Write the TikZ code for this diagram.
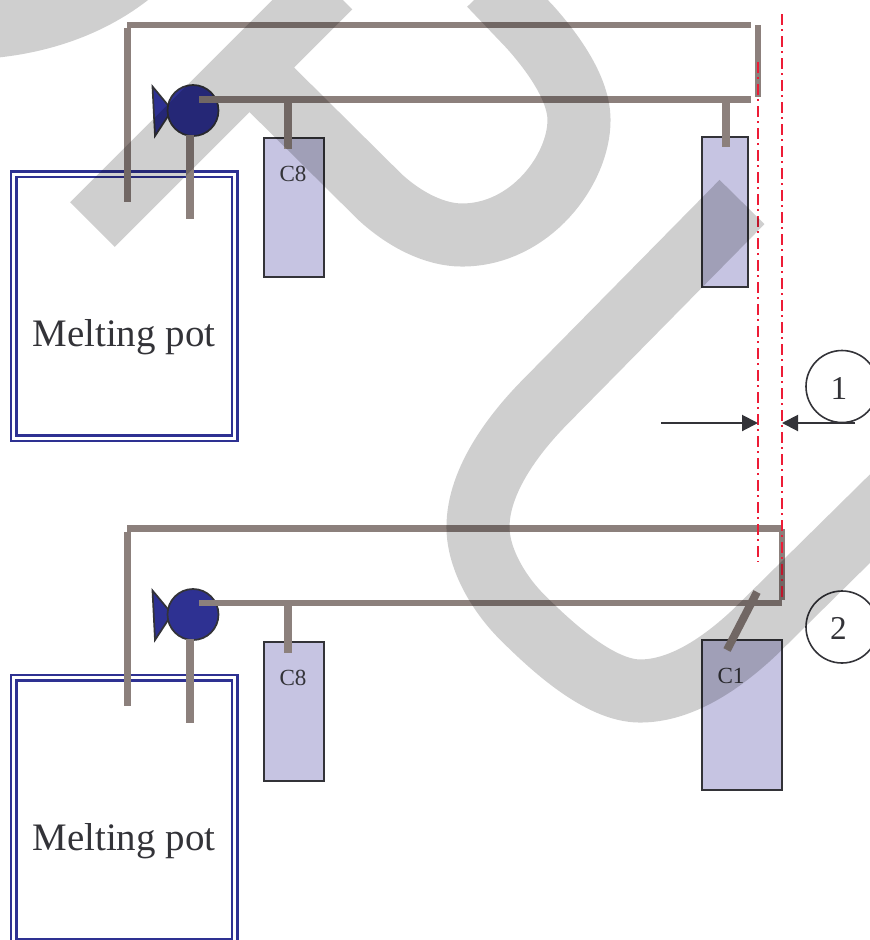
\documentclass[tikz,border=0pt]{standalone}
\usepackage{fontspec}
\setmainfont{Liberation Serif}
\usetikzlibrary{arrows.meta}

\definecolor{PipeGrey}{HTML}{8C807C}
\definecolor{PotBlue}{HTML}{2E3192}
\definecolor{TankFill}{HTML}{C6C4E2}
\definecolor{DarkLine}{HTML}{333338}
\definecolor{AxisRed}{HTML}{ED1C36}

\tikzset{
  pipe/.style={line width=4.8pt, color=PipeGrey},
  stub/.style={line width=6pt, color=PipeGrey},
  pot/.style={line width=1.7pt, color=PotBlue},
  tank/.style={line width=1.5pt, draw=DarkLine, fill=TankFill},
  pumpbody/.style={line width=1.3pt, draw=DarkLine, fill=PotBlue},
  axis/.style={line width=1.6pt, color=AxisRed, dash pattern=on 8pt off 3.6pt on 1.2pt off 3.7pt},
  gap/.style={line width=1.5pt, color=DarkLine, -{Triangle[length=12pt, width=12pt]}},
  callout/.style={circle, draw=DarkLine, line width=1.2pt, minimum size=54pt, inner sep=0pt},
  ghost/.style={line width=47.3pt, color=black, opacity=0.19}
}

\begin{document}
\begin{tikzpicture}[x=0.75pt, y=-0.75pt]

 \useasboundingbox (0,0) rectangle (870,940) ;
 \clip (0,0) rectangle (870,940) ;

 %%%%%%%%%% Points for the upper state %%%%%%%%%%
 \coordinate (1) at (127,25) ;
 \coordinate (2) at (751,25) ;
 \coordinate (3) at (127.5,28) ;
 \coordinate (4) at (127.5,202) ;
 \coordinate (5) at (199,99.5) ;
 \coordinate (6) at (751,99.5) ;
 \coordinate (7) at (758,25) ;
 \coordinate (8) at (758,97) ;
 \coordinate (9) at (190,135) ;
 \coordinate (10) at (190,219) ;
 \coordinate (11) at (288,100) ;
 \coordinate (12) at (288,149) ;
 \coordinate (13) at (726,100) ;
 \coordinate (14) at (726,147) ;

 %%%%%%%%%% Points for the lower state %%%%%%%%%%
 \coordinate (15) at (127,528.5) ;
 \coordinate (16) at (782,528.5) ;
 \coordinate (17) at (127.5,532) ;
 \coordinate (18) at (127.5,706) ;
 \coordinate (19) at (199,603) ;
 \coordinate (20) at (782,603) ;
 \coordinate (21) at (782,529) ;
 \coordinate (22) at (782,600) ;
 \coordinate (23) at (190,639) ;
 \coordinate (24) at (190,723) ;
 \coordinate (25) at (288,604) ;
 \coordinate (26) at (288,653) ;
 \coordinate (27) at (757,592) ;
 \coordinate (28) at (727,650) ;

 % Pots
 \draw [pot] (11,171.5) rectangle (237.5,441) ;
 \draw [pot] (16.5,177) rectangle (232,435.5) ;
 \draw [pot] (11,675) rectangle (237.5,945) ;
 \draw [pot] (16.5,680.5) rectangle (232,939) ;
 \node (pot1) at (124,337.5) {\fontsize{29.2pt}{31pt}\selectfont\color{DarkLine}Melting pot} ;
 \node (pot2) at (124,841) {\fontsize{29.2pt}{31pt}\selectfont\color{DarkLine}Melting pot} ;

 % Tanks
 \draw [tank] (263.5,138) rectangle (324,277) ;
 \draw [tank] (701.5,136.5) rectangle (748,287) ;
 \draw [tank] (263.5,642) rectangle (324,781) ;
 \draw [tank] (701.5,640) rectangle (782,790) ;
 \node (c1) at (293,174) {\fontsize{17.3pt}{20pt}\selectfont\color{DarkLine}C8} ;
 \node (c2) at (293,678) {\fontsize{17.3pt}{20pt}\selectfont\color{DarkLine}C8} ;
 \node (c3) at (731,676) {\fontsize{17.3pt}{20pt}\selectfont\color{DarkLine}C1} ;

 %%%%%%%%%%% The pumps %%%%%%%%%%%
 \draw [pumpbody] (152.5,86.5) -- (172,110) -- (155,136) -- cycle ;
 \draw [pumpbody] (193,110.5) circle (25.5) ;
 \draw [pumpbody] (152.5,590.5) -- (172,614) -- (155,640) -- cycle ;
 \draw [pumpbody] (193,614.5) circle (25.5) ;

 % Upper pipes
 \draw [pipe] (1) -- (2) ;
 \draw [stub, line width=5.2pt] (3) -- (4) ;
 \draw [pipe] (5) -- (6) ;
 \draw [pipe] (7) -- (8) ;
 \draw [stub] (9) -- (10) ;
 \draw [stub] (11) -- (12) ;
 \draw [stub] (13) -- (14) ;

 % Lower pipes
 \draw [pipe] (15) -- (16) ;
 \draw [stub, line width=5.2pt] (17) -- (18) ;
 \draw [pipe] (19) -- (20) ;
 \draw [pipe] (21) -- (22) ;
 \draw [stub] (23) -- (24) ;
 \draw [stub] (25) -- (26) ;
 \draw [stub] (27) -- (28) ;

 %%%%%%%%%%% Axes and the gap %%%%%%%%%%%
 \coordinate (29) at (758,62) ;
 \coordinate (30) at (758,562) ;
 \coordinate (31) at (782,14) ;
 \coordinate (32) at (782,600) ;
 \coordinate (33) at (661,423) ;
 \coordinate (34) at (758,423) ;
 \coordinate (35) at (855,423) ;
 \coordinate (36) at (782,423) ;
 \draw [axis] (29) -- (30) ;
 \draw [axis] (31) -- (32) ;
 \draw [gap] (33) -- (34) ;
 \draw [gap] (35) -- (36) ;
 \node [callout] (one) at (842,386.5) {} ;
 \node [callout] (two) at (842,627) {} ;
 \node (n1) at (839,388) {\fontsize{25pt}{27pt}\selectfont\color{DarkLine}1} ;
 \node (n2) at (838.5,628) {\fontsize{25pt}{27pt}\selectfont\color{DarkLine}2} ;

 %%%%%%%%%%% Grey strokes on top %%%%%%%%%%%
 \draw [ghost] (92.5,224.5) -- (330,-13)
   (-40,28) .. controls (20,28) and (85,12) .. (135,-30)
   (272,90) -- (380,197) .. controls (405,220) and (435,235) .. (462,235)
   .. controls (530,235) and (579,170) .. (579,120)
   .. controls (579,90) and (555,55) .. (530,27) -- (490,-15)
   (742,202) -- (547,400) .. controls (515,432) and (478,480) .. (478,527)
   .. controls (478,560) and (500,595) .. (522,617)
   .. controls (552,647) and (600,691) .. (640,691)
   .. controls (680,691) and (720,665) .. (755,632) -- (900,489) ;

\end{tikzpicture}
\end{document}
